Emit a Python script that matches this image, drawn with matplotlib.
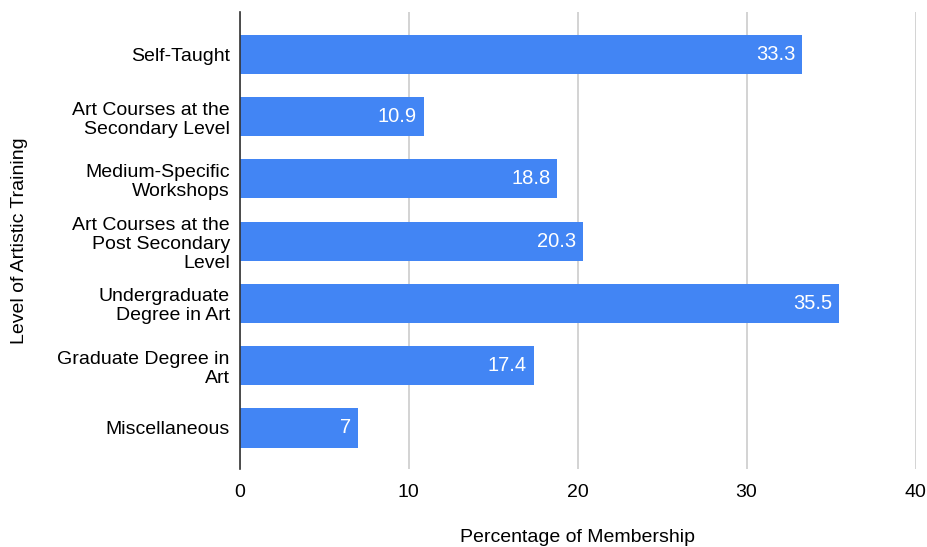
import matplotlib.pyplot as plt

plt.rcParams['font.family'] = ['Liberation Sans', 'DejaVu Sans']

# Data
categories = [
    "Self-Taught",
    "Art Courses at the\nSecondary Level",
    "Medium-Specific\nWorkshops",
    "Art Courses at the\nPost Secondary\nLevel",
    "Undergraduate\nDegree in Art",
    "Graduate Degree in\nArt",
    "Miscellaneous",
]
values = [33.3, 10.9, 18.8, 20.3, 35.5, 17.4, 7]
value_labels = ["33.3", "10.9", "18.8", "20.3", "35.5", "17.4", "7"]
x_ticks = [0, 10, 20, 30, 40]

fig = plt.figure(figsize=(9.27, 5.47), dpi=100)
ax = fig.add_axes([0.2584, 0.1426, 0.7292, 0.8354])

pos = list(range(len(categories)))
bars = ax.barh(pos, values, height=0.63, color="#4285F4", zorder=3)

for b, lab in zip(bars, value_labels):
    ax.text(b.get_width() - 0.4, b.get_y() + b.get_height() / 2, lab,
            ha="right", va="center", color="white", fontsize=14.5, zorder=4)

ax.set_yticks(pos)
ax.set_yticklabels(categories, fontsize=14, linespacing=1.15)
ax.set_ylim(len(categories) - 1 + 0.66, -0.68)
ax.set_xlim(0, 40)
ax.set_xticks(x_ticks)
ax.set_xticklabels([str(t) for t in x_ticks], fontsize=14)
ax.tick_params(axis="both", length=0)
ax.tick_params(axis="y", pad=7)
ax.tick_params(axis="x", pad=11)

ax.grid(axis="x", color="#cccccc", linewidth=1.2, zorder=0)
for s in ["top", "right", "bottom"]:
    ax.spines[s].set_visible(False)
ax.spines["left"].set_color("#333333")
ax.spines["left"].set_linewidth(1.2)
ax.spines["left"].set_zorder(5)

ax.set_xlabel("Percentage of Membership", fontsize=14, va="center")
ax.xaxis.set_label_coords(0.5, -0.149)
ax.set_ylabel("Level of Artistic Training", fontsize=14, va="center")
ax.yaxis.set_label_coords(-0.325, 0.5)

fig.savefig("out.png", dpi=100)
